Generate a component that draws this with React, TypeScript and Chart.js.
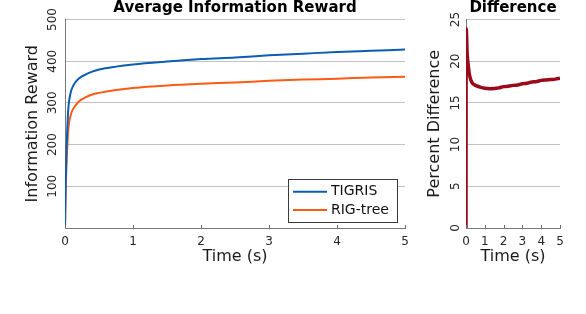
import React, { useEffect, useRef } from 'react';
import { Chart, registerables } from 'chart.js';

Chart.register(...registerables);

const FONT = "'DejaVu Sans', sans-serif";

// ---- Data ----
const rewardTime = [0, 0.01, 0.02, 0.03, 0.04, 0.05, 0.06, 0.08, 0.1, 0.15, 0.2, 0.3, 0.4, 0.5, 0.75, 1, 1.5, 2, 2.5, 3, 3.5, 4, 4.5, 5];
const tigrisReward = [0, 110, 175, 225, 262, 288, 304, 322, 334, 349, 358, 368, 375, 380, 387, 392, 399, 405, 409, 414, 418, 422, 425, 428];
const rigTreeReward = [0, 89, 141, 183, 215, 238, 253, 268, 279, 293, 303, 313, 320, 324, 331, 336, 342, 346, 349, 353, 356, 358, 361, 363];

const diffTime = [0, 0.01, 0.03, 0.06, 0.1, 0.15, 0.2, 0.3, 0.4, 0.5, 0.75, 1, 1.25, 1.5, 1.75, 2, 2.25, 2.5, 2.75, 3, 3.25, 3.5, 3.75, 4, 4.25, 4.5, 4.75, 5];
const diffPercent = [0, 23.9, 23.2, 21.0, 19.9, 18.9, 18.2, 17.5, 17.25, 17.1, 16.9, 16.75, 16.7, 16.72, 16.8, 16.95, 17.0, 17.1, 17.15, 17.3, 17.35, 17.5, 17.55, 17.7, 17.75, 17.8, 17.85, 17.95];

const seriesNames = ['TIGRIS', 'RIG-tree'];
const diffName = 'Percent Difference';

const rewardTitle = 'Average Information Reward';
const diffTitle = 'Difference';
const rewardYLabel = 'Information Reward';
const diffYLabel = 'Percent Difference';
const xLabel = 'Time (s)';

const BLUE = '#0b5db2';
const ORANGE = '#ff5a14';
const DARKRED = '#9b0a1a';

function zip(xs: number[], ys: number[]) {
  return xs.map((x, i) => ({ x, y: ys[i] }));
}

const insideTicks = {
  id: 'insideTicks',
  afterDatasetsDraw(chart: any) {
    const xs = chart.scales.x;
    const { ctx, chartArea } = chart;
    ctx.save();
    ctx.strokeStyle = '#6a6a6a';
    ctx.lineWidth = 1;
    xs.ticks.forEach((t: any) => {
      const px = Math.round(xs.getPixelForValue(t.value)) + 0.5;
      ctx.beginPath();
      ctx.moveTo(px, chartArea.bottom);
      ctx.lineTo(px, chartArea.bottom - 3);
      ctx.stroke();
    });
    ctx.restore();
  },
};

// y tick labels drawn rotated (reading bottom-to-top), positioned by the y scale
const rotatedYTicks = {
  id: 'rotatedYTicks',
  afterDraw(chart: any, _args: any, opts: any) {
    const ys = chart.scales.y;
    const { ctx, chartArea } = chart;
    ctx.save();
    ctx.font = `12px ${FONT}`;
    ctx.fillStyle = '#262626';
    ctx.textAlign = 'center';
    ctx.textBaseline = 'middle';
    ys.ticks.forEach((t: any) => {
      if (opts.hideZero && t.value === 0) return;
      const py = ys.getPixelForValue(t.value);
      ctx.save();
      ctx.translate(chartArea.left - opts.offset, py);
      ctx.rotate(-Math.PI / 2);
      ctx.fillText(String(t.value), 0, 0);
      ctx.restore();
    });
    ctx.restore();
  },
};

const boxLegend = {
  id: 'boxLegend',
  afterDatasetsDraw(chart: any) {
    const { ctx, chartArea } = chart;
    const items = chart.data.datasets;
    const w = 109;
    const h = 43;
    const right = chartArea.right - 8;
    const bottom = chartArea.bottom - 6;
    const left = Math.round(right - w);
    const top = Math.round(bottom - h);
    ctx.save();
    ctx.fillStyle = '#ffffff';
    ctx.fillRect(left, top, w, h);
    ctx.strokeStyle = '#3a3a3a';
    ctx.lineWidth = 1;
    ctx.strokeRect(left + 0.5, top + 0.5, w, h);
    ctx.font = `14px ${FONT}`;
    ctx.textBaseline = 'middle';
    ctx.textAlign = 'left';
    items.forEach((ds: any, i: number) => {
      const y = top + 12.7 + i * 18.3;
      ctx.strokeStyle = ds.borderColor;
      ctx.lineWidth = ds.borderWidth;
      ctx.beginPath();
      ctx.moveTo(left + 5, y);
      ctx.lineTo(left + 39, y);
      ctx.stroke();
      ctx.fillStyle = '#111111';
      ctx.fillText(ds.label, left + 43, y);
    });
    ctx.restore();
  },
};

function makeOptions(cfg: {
  title: string;
  yTitle: string;
  yMax: number;
  yStep: number;
  hideZero: boolean;
  yAxisWidth: number;
  padRight: number;
  yTitlePad: number;
  yTickOffset: number;
}) {
  return {
    responsive: false,
    animation: false as const,
    events: [] as any[],
    layout: { padding: { left: 0, right: cfg.padRight, top: 0, bottom: 0 } },
    plugins: {
      legend: { display: false },
      tooltip: { enabled: false },
      rotatedYTicks: { hideZero: cfg.hideZero, offset: cfg.yTickOffset },
      title: {
        display: true,
        fullSize: false,
        text: cfg.title,
        color: '#000000',
        font: { family: FONT, size: 15, weight: 'bold' as const },
        padding: { top: -1, bottom: 2.5 },
      },
    },
    scales: {
      x: {
        type: 'linear' as const,
        min: 0,
        max: 5,
        afterFit: (s: any) => {
          s.height = 86;
        },
        ticks: {
          stepSize: 1,
          autoSkip: false,
          maxRotation: 0,
          padding: 7,
          color: '#262626',
          font: { family: FONT, size: 12 },
        },
        grid: { display: false, drawTicks: false },
        border: { display: true, color: '#7a7a7a', width: 1 },
        title: {
          display: true,
          text: xLabel,
          color: '#1a1a1a',
          font: { family: FONT, size: 16 },
          padding: { top: 0, bottom: 47.4 },
        },
      },
      y: {
        type: 'linear' as const,
        min: 0,
        max: cfg.yMax,
        afterFit: (s: any) => {
          s.width = cfg.yAxisWidth;
        },
        ticks: {
          stepSize: cfg.yStep,
          autoSkip: false,
          display: false,
        },
        grid: { color: '#c2c2c2', drawTicks: false, lineWidth: 1 },
        border: { display: true, color: '#7a7a7a', width: 1 },
        title: {
          display: true,
          text: cfg.yTitle,
          color: '#1a1a1a',
          font: { family: FONT, size: 16 },
          padding: { top: cfg.yTitlePad, bottom: 0 },
        },
      },
    },
  };
}

export default function App() {
  const leftRef = useRef<HTMLCanvasElement | null>(null);
  const rightRef = useRef<HTMLCanvasElement | null>(null);

  useEffect(() => {
    const left = new Chart(leftRef.current as HTMLCanvasElement, {
      type: 'line',
      data: {
        datasets: [
          {
            label: seriesNames[0],
            data: zip(rewardTime, tigrisReward),
            borderColor: BLUE,
            backgroundColor: BLUE,
            borderWidth: 2,
            pointRadius: 0,
            cubicInterpolationMode: 'monotone',
            fill: false,
          },
          {
            label: seriesNames[1],
            data: zip(rewardTime, rigTreeReward),
            borderColor: ORANGE,
            backgroundColor: ORANGE,
            borderWidth: 2,
            pointRadius: 0,
            cubicInterpolationMode: 'monotone',
            fill: false,
          },
        ],
      },
      options: makeOptions({
        title: rewardTitle,
        yTitle: rewardYLabel,
        yMax: 500,
        yStep: 100,
        hideZero: true,
        yAxisWidth: 65,
        padRight: 65,
        yTitlePad: 23.4,
        yTickOffset: 12.5,
      }) as any,
      plugins: [insideTicks, boxLegend, rotatedYTicks],
    });

    const right = new Chart(rightRef.current as HTMLCanvasElement, {
      type: 'line',
      data: {
        datasets: [
          {
            label: diffName,
            data: zip(diffTime, diffPercent),
            borderColor: DARKRED,
            backgroundColor: DARKRED,
            borderWidth: 3.5,
            pointRadius: 0,
            cubicInterpolationMode: 'monotone',
            fill: false,
          },
        ],
      },
      options: makeOptions({
        title: diffTitle,
        yTitle: diffYLabel,
        yMax: 25,
        yStep: 5,
        hideZero: false,
        yAxisWidth: 56,
        padRight: 56,
        yTitlePad: 15.4,
        yTickOffset: 10.5,
      }) as any,
      plugins: [insideTicks, rotatedYTicks],
    });

    return () => {
      left.destroy();
      right.destroy();
    };
  }, []);

  return (
    <div
      style={{
        position: 'fixed',
        left: 0,
        top: 0,
        width: 586,
        height: 314,
        overflow: 'hidden',
        background: '#ffffff',
      }}
    >
      <canvas
        ref={leftRef}
        width={470}
        height={314}
        style={{ position: 'absolute', left: 0, top: 0, width: 470, height: 314 }}
      />
      <canvas
        ref={rightRef}
        width={206}
        height={314}
        style={{ position: 'absolute', left: 410, top: 0, width: 206, height: 314 }}
      />
    </div>
  );
}
